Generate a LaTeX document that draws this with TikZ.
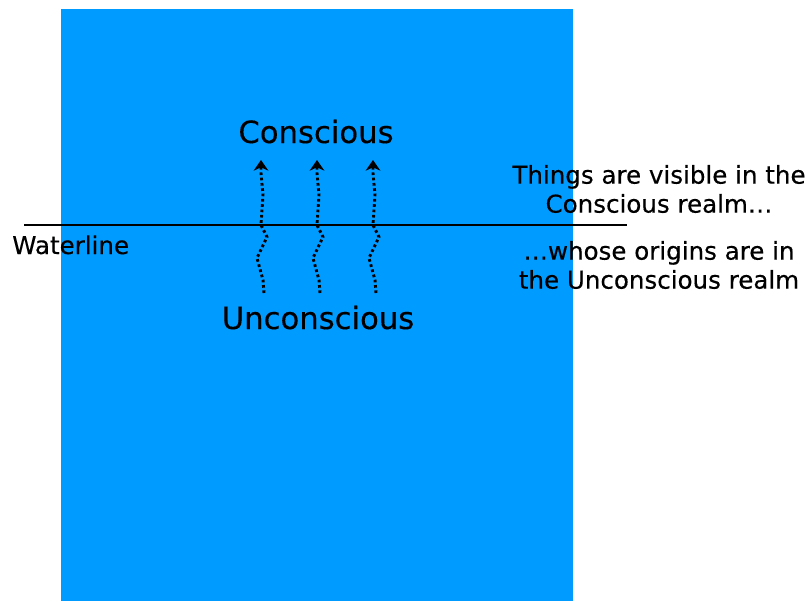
\documentclass[tikz,border=0pt]{standalone}
\usepackage{fontspec}
\setmainfont{DejaVu Sans}[BoldFont=DejaVu Sans, BoldFeatures={FakeBold=0.35}]
\usetikzlibrary{arrows.meta}
\definecolor{water}{RGB}{0,155,255}
\tikzset{
  bigtxt/.style={inner sep=0pt, font=\bfseries\fontsize{23}{27}\selectfont},
  midtxt/.style={inner sep=0pt, font=\bfseries\fontsize{18.4}{21.75}\selectfont, align=center},
  wave/.style={line width=2.2pt, dash pattern=on 2pt off 2pt, line join=round,
    -{Stealth[length=8pt,width=11pt,inset=2.5pt]}},
}
\begin{document}
\begin{tikzpicture}[x=0.75pt,y=-0.75pt]
\useasboundingbox (0,0) rectangle (811,601);
\fill[water] (61,9) rectangle (573,601);
\coordinate (wl) at (24,225);
\coordinate (wr) at (627,225);
\draw[line width=2.1pt] (wl) -- (wr);
\node[midtxt, anchor=base west] (waterline) at (12,254) {Waterline};
\node[bigtxt, anchor=base] (conscious) at (316,143) {Conscious};
\node[bigtxt, anchor=base] (unconscious) at (318,329) {Unconscious};
\node[midtxt] (vis) at (659,189) {Things are visible in the\\Conscious realm…};
\node[midtxt] (orig) at (659,265) {…whose origins are in\\the Unconscious realm};
\foreach \i/\dx in {1/0,2/56,3/112}{
  \coordinate (b\i) at (264+\dx,293);
  \coordinate (t\i) at (261+\dx,160);
  \draw[wave] (b\i) -- ++(-1,-13) -- ++(-6,-22) -- ++(10,-21) -- ++(-6,-12)
     -- ++(2,-30) -- ++(-2,-22) -- (t\i);
}
\end{tikzpicture}
\end{document}
